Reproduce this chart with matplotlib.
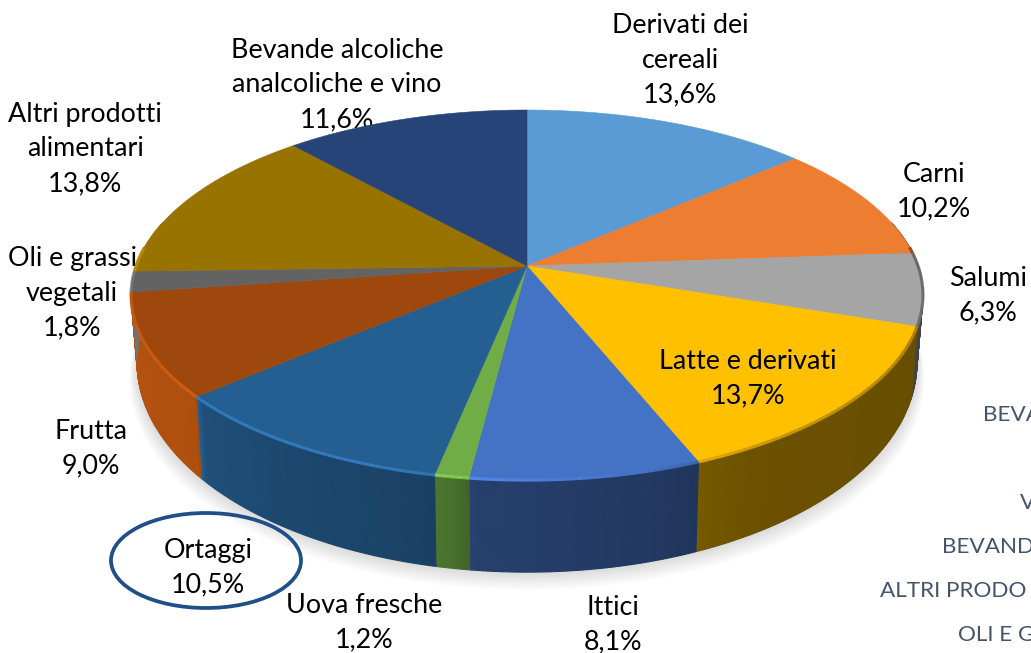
import numpy as np
import matplotlib
matplotlib.use("Agg")
import matplotlib.pyplot as plt
from matplotlib.patches import Ellipse, Polygon
from matplotlib.collections import LineCollection

categories = ["Derivati dei\ncereali", "Carni", "Salumi", "Latte e derivati", "Ittici", "Uova fresche",
              "Ortaggi", "Frutta", "Oli e grassi\nvegetali", "Altri prodotti\nalimentari",
              "Bevande alcoliche\nanalcoliche e vino"]
values = [13.6, 10.2, 6.3, 13.7, 8.1, 1.2, 10.5, 9.0, 1.8, 13.8, 11.6]
colors = ["#5B9BD5", "#ED7D31", "#A5A5A5", "#FFC000", "#4472C4", "#70AD47",
          "#255E91", "#9E480E", "#636363", "#997300", "#264478"]
label_xy = [(680, 60), (934, 191.5), (988, 295.5), (748, 378.5), (613, 624.5), (364, 622.5),
            (208, 567.5), (91, 448.5), (72, 293), (85, 149), (337, 85)]
clipped_labels = ["BEVA", "V", "BEVAND", "ALTRI PRODO", "OLI E G"]
clipped_xy = [(983, 415), (1020, 503), (942, 547), (880, 591), (958, 635)]

plt.rcParams["font.family"] = ["Lato", "DejaVu Sans"]
FS = 19.4

fig = plt.figure(figsize=(10.31, 6.53), dpi=100)
ax = fig.add_axes([0, 0, 1, 1])
ax.set_xlim(0, 1031)
ax.set_ylim(653, 0)
ax.axis("off")

CX, CY, A, B, K = 527, 266, 391, 180.5, 0.157


def top(theta):
    u, v = np.sin(theta), np.cos(theta)
    w = 1 + K * v
    return CX + A * u / w, CY - B * v / w


def bottom(theta):
    x, y = top(theta)
    v = np.cos(theta)
    return CX + (x - CX) * 0.985, y + 62 - 30 * v


def shade(c, f):
    rgb = np.array(matplotlib.colors.to_rgb(c)) * f
    return tuple(np.clip(rgb, 0, 1))


def side_factor(theta):
    d = np.degrees(theta)
    return np.interp(d, [85, 150, 165, 186, 190, 194, 228, 230, 262, 290],
                     [0.40, 0.42, 0.50, 0.55, 0.66, 0.70, 0.83, 1.10, 1.15, 1.15])


def rim_factor(theta):
    d = np.degrees(theta)
    return np.interp(d, [85, 120, 150, 170, 200, 235, 290], [0.6, 0.7, 0.8, 1.05, 1.3, 1.3, 1.15])


shares = np.array(values) / np.sum(values)
edges = np.concatenate([[0], np.cumsum(shares)]) * 2 * np.pi

# soft shadow below the pie
all_t = np.linspace(0, 2 * np.pi, 361)
bx, by = bottom(all_t)
for i in range(12, 0, -1):
    sx = CX + (bx - CX) * (1 + 0.0016 * i)
    sy = by + i * 1.5
    ax.add_patch(Polygon(np.column_stack([sx, sy]), closed=True, fc="black", ec="none",
                         alpha=0.012, zorder=0.5))

# outer labels sit behind the pie
for name, val, (x, y) in zip(categories, values, label_xy):
    inside = name.startswith("Latte")
    ax.text(x, y, f"{name}\n{val:.1f}%".replace(".", ","), ha="center", va="center",
            fontsize=FS, color="black", linespacing=1.49, zorder=10 if inside else 1)

for s, (x, y) in zip(clipped_labels, clipped_xy):
    ax.text(x, y, s, ha="left", va="center", fontsize=FS - 3.2, color="#44546A", zorder=1)

# side wall, back to front
for i, c in enumerate(colors):
    ts = np.arange(edges[i], edges[i + 1], np.radians(0.5))
    ts = np.append(ts, edges[i + 1])
    for t0, t1 in zip(ts[:-1], ts[1:]):
        mid = (t0 + t1) / 2
        if np.cos(mid) > 0.25:
            continue
        x0, y0 = top(t0)
        x1, y1 = top(t1)
        x2, y2 = bottom(t1)
        x3, y3 = bottom(t0)
        fc = shade(c, side_factor(mid))
        ax.add_patch(Polygon([(x0, y0), (x1, y1), (x2, y2), (x3, y3)], closed=True,
                             fc=fc, ec=fc, lw=0.8, antialiased=True, zorder=3))

# top face
for i, c in enumerate(colors):
    ts = np.linspace(edges[i], edges[i + 1], 60)
    x, y = top(ts)
    pts = np.column_stack([np.r_[CX, x], np.r_[CY, y]])
    ax.add_patch(Polygon(pts, closed=True, fc=c, ec=c, lw=0.4, zorder=4))

# bevel along the rim
for i, c in enumerate(colors):
    ts = np.linspace(edges[i], edges[i + 1], 40)
    segs, cols = [], []
    for t0, t1 in zip(ts[:-1], ts[1:]):
        mid = (t0 + t1) / 2
        if np.cos(mid) > 0.1:
            continue
        segs.append([top(t0), top(t1)])
        cols.append(shade(c, rim_factor(mid)))
    if segs:
        ax.add_collection(LineCollection(segs, colors=cols, linewidths=2.2, zorder=5,
                                         capstyle="butt"))

# highlight circling the Ortaggi label
ax.add_patch(Ellipse((206, 560.5), 190, 95, fc="none", ec="#1F4E89", lw=2.7, zorder=11))

fig.savefig("out.png", dpi=100)
